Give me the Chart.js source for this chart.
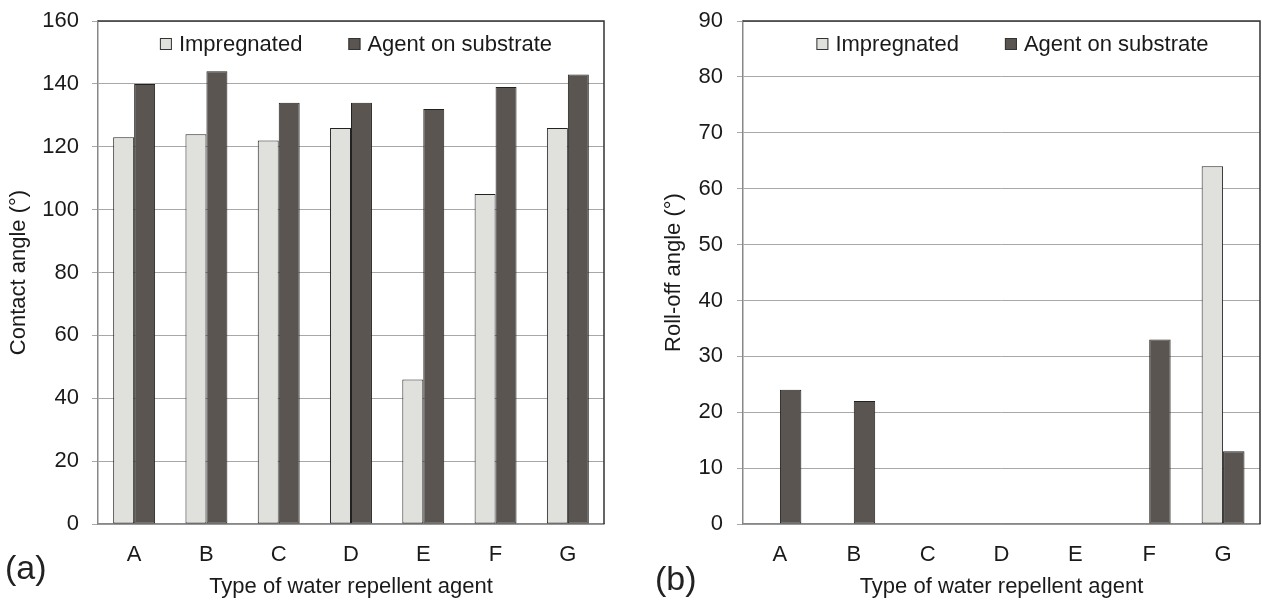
<!DOCTYPE html>
<html>
<head>
<meta charset="utf-8">
<script src="https://cdn.jsdelivr.net/npm/chart.js@4.4.1/dist/chart.umd.min.js"></script>
<style>
  body { margin: 0; background: #fff; width: 1262px; height: 603px; overflow: hidden; font-family: "Liberation Sans", Arial, sans-serif; }
  .box { position: absolute; top: 0; height: 603px; }
  .tag { position: absolute; font-size: 34px; color: #222; line-height: 1; }
</style>
</head>
<body>
<div class="box" style="left:0;width:620px"><canvas id="chartA"></canvas></div>
<div class="box" style="left:650px;width:612px"><canvas id="chartB"></canvas></div>
<div class="tag" style="left:5px;top:550px">(a)</div>
<div class="tag" style="left:655px;top:561px">(b)</div>

<script>
const categories = ["A", "B", "C", "D", "E", "F", "G"];
const seriesNames = ["Impregnated", "Agent on substrate"];

// (a) contact angle
const contactImpregnated = [123, 124, 122, 126, 46, 105, 126];
const contactOnSubstrate = [140, 144, 134, 134, 132, 139, 143];

// (b) roll-off angle
const rollImpregnated = [0, 0, 0, 0, 0, 0, 64];
const rollOnSubstrate = [24, 22, 0, 0, 0, 33, 13];

const lightFill = "#e0e0dc";
const darkFill = "#5a5551";
const font = "'Liberation Sans', Arial, sans-serif";

// legend drawn inside the plot area, plus a frame round it
const innerLegend = {
  id: "innerLegend",
  afterDraw(chart, args, opts) {
    const { ctx, chartArea } = chart;
    ctx.save();
    ctx.font = "22px " + font;
    ctx.textBaseline = "middle";
    const box = 12, gapText = 7, gapItem = 46;
    const items = chart.data.datasets.map((d) => ({ label: d.label, color: d.backgroundColor, w: ctx.measureText(d.label).width }));
    let total = 0;
    items.forEach((it, i) => { total += box + gapText + it.w + (i ? gapItem : 0); });
    let x = (chartArea.left + chartArea.right) / 2 - total / 2 + (opts.shift || 0);
    const y = chartArea.top + 23;
    items.forEach((it) => {
      ctx.fillStyle = it.color;
      ctx.fillRect(x, y - box / 2, box, box);
      ctx.strokeStyle = "#333";
      ctx.lineWidth = 1;
      ctx.strokeRect(x + 0.5, y - box / 2 + 0.5, box - 1, box - 1);
      ctx.fillStyle = "#1a1a1a";
      ctx.fillText(it.label, x + box + gapText, y + 1);
      x += box + gapText + it.w + gapItem;
    });
    // darker top and right edges of the plot frame
    ctx.strokeStyle = "#333";
    ctx.lineWidth = 1.5;
    ctx.beginPath();
    ctx.moveTo(chartArea.left, chartArea.top);
    ctx.lineTo(chartArea.right, chartArea.top);
    ctx.lineTo(chartArea.right, chartArea.bottom);
    ctx.stroke();
    ctx.restore();
  }
};

function makeChart(id, first, second, yMax, yStep, yTitle, yWidth, titlePad, tickPad, rightPad, shift) {
  return new Chart(document.getElementById(id), {
    type: "bar",
    data: {
      labels: categories,
      datasets: [
        { label: seriesNames[0], data: first, backgroundColor: lightFill, borderColor: "#222", borderWidth: 1, borderSkipped: false },
        { label: seriesNames[1], data: second, backgroundColor: darkFill, borderColor: "#222", borderWidth: 1, borderSkipped: false }
      ]
    },
    options: {
      responsive: true,
      maintainAspectRatio: false,
      animation: false,
      layout: { padding: { top: 21, right: rightPad, bottom: 0, left: 0 } },
      datasets: { bar: { categoryPercentage: 0.58, barPercentage: 1 } },
      plugins: { legend: { display: false }, tooltip: { enabled: false }, innerLegend: { shift: shift } },
      scales: {
        x: {
          grid: { display: false },
          border: { color: "#888", width: 1.5 },
          ticks: { color: "#1a1a1a", font: { size: 22, family: font }, padding: 10 },
          title: { display: true, text: "Type of water repellent agent", color: "#1a1a1a", font: { size: 22, family: font }, padding: { top: 2, bottom: 3 } },
          afterFit: (s) => { s.height = 79; s.paddingLeft = 0; s.paddingRight = 0; }
        },
        y: {
          min: 0,
          max: yMax,
          grid: { color: "#a8a8a8", lineWidth: 1, tickLength: 6 },
          border: { color: "#888", width: 1.5 },
          ticks: { stepSize: yStep, color: "#1a1a1a", font: { size: 22, family: font }, padding: tickPad },
          title: { display: true, text: yTitle, color: "#1a1a1a", font: { size: 22, family: font }, padding: { top: titlePad, bottom: 0 } },
          afterFit: (s) => { s.width = yWidth; s.paddingTop = 0; s.paddingBottom = 0; }
        }
      }
    },
    plugins: [innerLegend]
  });
}

makeChart("chartA", contactImpregnated, contactOnSubstrate, 160, 20, "Contact angle (°)", 98, 6, 13, 16, 5);
makeChart("chartB", rollImpregnated, rollOnSubstrate, 90, 10, "Roll-off angle (°)", 93, 11, 14, 2, 11);
</script>
</body>
</html>
